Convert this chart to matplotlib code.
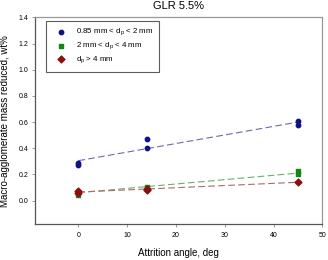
import matplotlib
matplotlib.use("Agg")
import matplotlib.pyplot as plt
import numpy as np

plt.rcParams['font.family'] = ['Liberation Sans', 'DejaVu Sans']

x_small = [0, 0, 14, 14, 45, 45]
y_small = [0.29, 0.275, 0.47, 0.40, 0.605, 0.575]
x_mid = [0, 0, 14, 14, 45, 45]
y_mid = [0.045, 0.06, 0.10, 0.095, 0.225, 0.20]
x_large = [0, 0, 14, 14, 45]
y_large = [0.075, 0.06, 0.08, 0.09, 0.14]

fit_x = [0, 45]
fit_small = [0.305, 0.60]
fit_mid = [0.06, 0.21]
fit_large = [0.065, 0.14]

labels = ["0.85 mm < d$_\\mathregular{p}$ < 2 mm",
          "2 mm < d$_\\mathregular{p}$ < 4 mm",
          "d$_\\mathregular{p}$ > 4 mm"]

fig = plt.figure(figsize=(3.28, 2.6), dpi=100)
ax = fig.add_axes([0.108, 0.138, 0.875, 0.795])

ax.plot(fit_x, fit_small, ls=(0, (6, 3)), color='#6a6ab0', lw=0.8, zorder=1)
ax.plot(fit_x, fit_mid, ls=(0, (6, 3)), color='#6aae6a', lw=0.8, zorder=1)
ax.plot(fit_x, fit_large, ls=(0, (6, 3)), color='#a86a6a', lw=0.8, zorder=1)

ax.scatter(x_small, y_small, marker='o', s=10, color='#10108a', label=labels[0], zorder=3)
ax.scatter(x_mid, y_mid, marker='s', s=12, color='#118811', label=labels[1], zorder=3)
ax.scatter(x_large, y_large, marker='D', s=12, color='#8a1010', label=labels[2], zorder=4)

ax.set_xlim(-8.8, 50)
ax.set_ylim(-0.18, 1.4)
ax.set_xticks([0, 10, 20, 30, 40, 50])
ax.set_yticks([0.0, 0.2, 0.4, 0.6, 0.8, 1.0, 1.2, 1.4])
ax.yaxis.set_major_formatter(matplotlib.ticker.FormatStrFormatter('%.1f'))
ax.tick_params(labelsize=5, length=2.2, width=0.6, color='#888888', direction='out')
ax.tick_params(axis='y', pad=3)
ax.tick_params(axis='x', pad=3.5)
for s in ax.spines.values():
    s.set_color('#999999')
    s.set_linewidth(0.9)
ax.spines['left'].set_color('#555555')
ax.spines['bottom'].set_color('#555555')

ax.set_xlabel('Attrition angle, deg', fontsize=7, labelpad=6.5)
ax.set_ylabel('Macro-agglomerate mass reduced, wt%', fontsize=7, labelpad=6)
ax.set_title('GLR 5.5%', fontsize=8, pad=6)

leg = ax.legend(loc='upper left', fontsize=5.7, frameon=True, fancybox=False,
                edgecolor='#333333', borderpad=0.8, handletextpad=0.85,
                handlelength=2.1, labelspacing=0.35,
                bbox_to_anchor=(0.0366, 0.9835), borderaxespad=0)
leg.get_frame().set_linewidth(0.8)

fig.savefig('out.png', dpi=100)
